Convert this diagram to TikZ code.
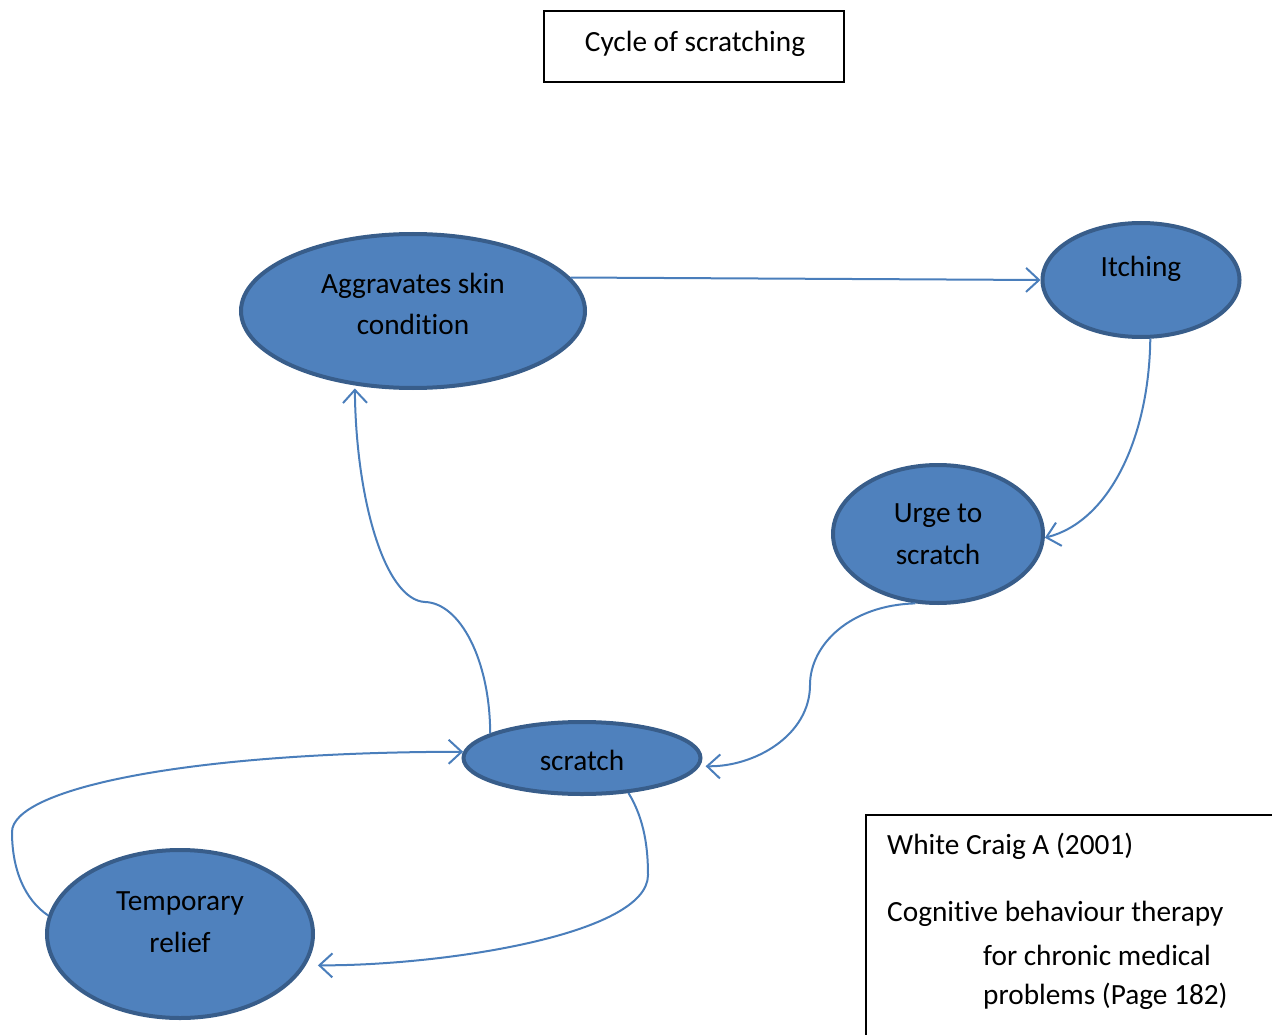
\documentclass[tikz,border=0pt]{standalone}
\usepackage{fontspec}
\setmainfont{Carlito}[Ligatures=NoCommon]
\usetikzlibrary{shapes.geometric,arrows.meta}
\definecolor{bubfill}{HTML}{4F81BD}
\definecolor{bubline}{HTML}{385D8A}
\definecolor{conn}{HTML}{4A7EBB}
\begin{document}
\begin{tikzpicture}[x=1pt,y=-1pt,
  bubble/.style={ellipse,draw=bubline,fill=bubfill,line width=4pt,inner sep=0pt},
  txt/.style={font=\fontsize{29.3}{41.5}\selectfont,align=center,inner sep=0pt},
  reftxt/.style={font=\fontsize{29.3}{41.5}\selectfont,anchor=west,inner sep=0pt},
  link/.style={draw=conn,line width=2pt,-{Straight Barb[length=13pt,width=24pt]}}]
\useasboundingbox (0,0) rectangle (1272,1035);
% title
\node[draw,line width=1.3pt,minimum width=300pt,minimum height=71pt,inner sep=0pt] (title) at (694,46.5) {};
\node[txt] (titlet) at (695,43.5) {Cycle of scratching};
% reference box
\draw[line width=1.3pt] (1276,815) -- (866,815) -- (866,1040);
\node[reftxt] (ref1) at (887,846) {White Craig A (2001)};
\node[reftxt] (ref2) at (887,914) {Cognitive behaviour therapy};
\node[reftxt] (ref3) at (983,955) {for chronic medical};
\node[reftxt] (ref4) at (983,996) {problems (Page 182)};
% ellipses
\node[bubble,minimum width=344pt,minimum height=154pt] (agg) at (413,311) {};
\node[txt] (aggt) at (413,304) {Aggravates skin\\condition};
\node[bubble,minimum width=197pt,minimum height=114pt] (itch) at (1141,280) {};
\node[txt] (itcht) at (1141,269) {Itching};
\node[bubble,minimum width=210pt,minimum height=138pt] (urge) at (938,534) {};
\node[txt] (urget) at (938,534) {Urge to\\scratch};
\node[bubble,minimum width=237pt,minimum height=72pt] (scr) at (582,758) {};
\node[txt] (scrt) at (582,760) {scratch};
\node[bubble,minimum width=266pt,minimum height=168pt] (temp) at (180,934) {};
\node[txt] (tempt) at (180,922) {Temporary\\relief};
% arrow end points just outside the borders
\coordinate (scrin) at ([xshift=6pt]scr.-4);
\coordinate (aggin) at ([yshift=-3pt]agg.-128);
\coordinate (tempin) at ([xshift=11pt,yshift=-2pt]temp.-13);
% connectors
\draw[link] (agg.12.6) -- (itch.west);
\draw[link] (itch.-81) .. controls (1149,440) and (1108,522) .. (urge.-2);
\draw[link] (urge.-108) .. controls (850,605) and (810,645) .. (810,685)
  .. controls (810,735) and (755,767) .. (scrin);
\draw[link] (scr.165) .. controls (490,660) and (460,603) .. (425,602)
  .. controls (385,600) and (356,500) .. (aggin);
\draw[link] (scr.-37) .. controls (645,820) and (648,850) .. (648,875)
  .. controls (648,935) and (440,966) .. (tempin);
\draw[link] (temp.172) .. controls (25,900) and (12,870) .. (12,832)
  .. controls (12,790) and (180,752) .. (scr.177);
\end{tikzpicture}
\end{document}
